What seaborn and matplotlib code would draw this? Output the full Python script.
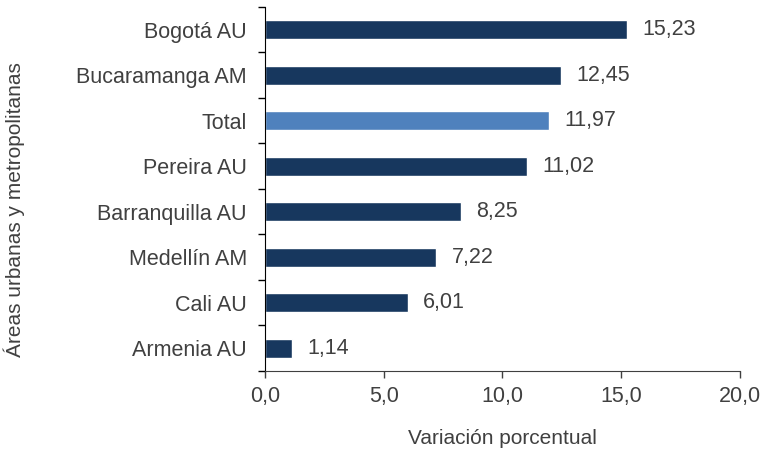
import matplotlib
matplotlib.use("Agg")
import matplotlib.pyplot as plt
import seaborn as sns
import pandas as pd
import numpy as np

# Datos
areas = ["Bogotá AU", "Bucaramanga AM", "Total", "Pereira AU",
         "Barranquilla AU", "Medellín AM", "Cali AU", "Armenia AU"]
variacion = [15.23, 12.45, 11.97, 11.02, 8.25, 7.22, 6.01, 1.14]
xticks = [0, 5, 10, 15, 20]

oscuro = "#17375E"
claro = "#4F81BD"
colores = {a: (claro if a == "Total" else oscuro) for a in areas}

df = pd.DataFrame({"area": areas, "variacion": variacion})

sns.set_style("white")
plt.rcParams["font.family"] = ["Liberation Sans", "DejaVu Sans"]
gris = "#404040"
fs = 15.5

fig = plt.figure(figsize=(7.7, 4.54), dpi=100)
ax = fig.add_axes([0.344, 0.183, 0.617, 0.802])

sns.barplot(data=df, x="variacion", y="area", hue="area", palette=colores,
            order=areas, hue_order=areas, orient="h", width=0.42,
            legend=False, ax=ax, saturation=1)

# Etiquetas de valores
for cont in ax.containers:
    ax.bar_label(cont, labels=[f"{v:.2f}".replace(".", ",") for v in cont.datavalues],
                 padding=11, fontsize=fs, color=gris)

ax.set_xlim(0, 20)
ax.set_ylim(len(areas) - 0.5, -0.5)
ax.set_xticks(xticks)
ax.set_xticklabels([f"{t:.1f}".replace(".", ",") for t in xticks], fontsize=fs, color=gris)
ax.tick_params(axis="x", bottom=True, direction="out", length=5, width=1, color=gris, pad=6)

# Marcas del eje y entre categorías
ax.set_yticks(np.arange(len(areas) + 1) - 0.5, minor=True)
ax.set_yticks(range(len(areas)))
ax.set_yticklabels(areas, fontsize=fs, color=gris)
ax.tick_params(axis="y", which="major", left=False, length=0, pad=13)
ax.tick_params(axis="y", which="minor", left=True, direction="out", length=5, width=1, color="black")

for s in ["top", "right"]:
    ax.spines[s].set_visible(False)
ax.spines["left"].set_color("black")
ax.spines["bottom"].set_color(gris)

ax.set_xlabel("Variación porcentual", fontsize=15, color=gris, labelpad=16)
ax.set_ylabel("Áreas urbanas y metropolitanas", fontsize=15, color=gris)
ax.yaxis.set_label_coords(-0.505, 0.442)

fig.savefig("out.png", dpi=100)
